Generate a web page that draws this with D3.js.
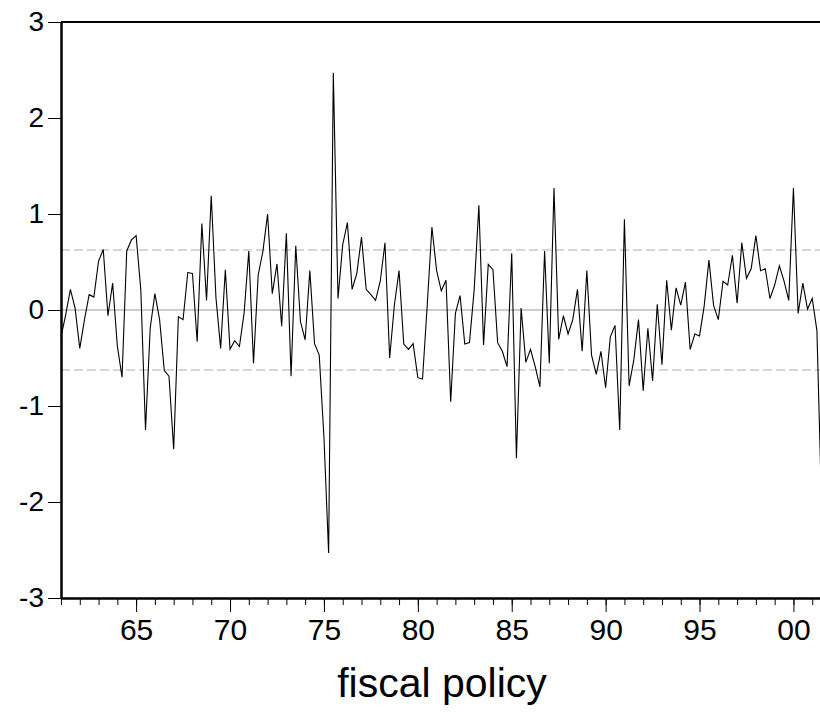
<!DOCTYPE html>
<html>
<head>
<meta charset="utf-8">
<script src="https://cdn.jsdelivr.net/npm/d3@7"></script>
<style>
  body { margin: 0; background: #fff; }
  svg { display: block; overflow: hidden; }
  text { font-family: "Liberation Sans", Arial, sans-serif; fill: #000; }
</style>
</head>
<body>
<div id="chart"></div>
<script>
// quarterly series, starting 1961Q1
const startYear = 1961;
const values = [
  -0.28, -0.05, 0.215, 0.02, -0.40, -0.10, 0.16, 0.135, 0.51, 0.63,
  -0.06, 0.28, -0.375, -0.70, 0.615, 0.73, 0.775, 0.21, -1.25, -0.19,
  0.17, -0.10, -0.63, -0.69, -1.45, -0.07, -0.10, 0.39, 0.38, -0.33,
  0.90, 0.10, 1.19, 0.13, -0.40, 0.42, -0.41, -0.32, -0.38, -0.03,
  0.615, -0.555, 0.365, 0.61, 1.0, 0.17, 0.48, -0.17, 0.80, -0.69,
  0.67, -0.12, -0.31, 0.41, -0.35, -0.47, -1.32, -2.53, 2.47, 0.12,
  0.68, 0.91, 0.215, 0.38, 0.76, 0.215, 0.16, 0.10, 0.30, 0.70,
  -0.50, 0.05, 0.41, -0.355, -0.41, -0.35, -0.705, -0.72, 0.05, 0.865,
  0.41, 0.20, 0.31, -0.955, -0.035, 0.15, -0.355, -0.34, 0.21, 1.09,
  -0.365, 0.475, 0.42, -0.34, -0.43, -0.59, 0.59, -1.545, 0.02, -0.545,
  -0.41, -0.59, -0.80, 0.615, -0.555, 1.27, -0.305, -0.06, -0.25, -0.10,
  0.215, -0.43, 0.41, -0.47, -0.67, -0.43, -0.81, -0.28, -0.16, -1.25,
  0.945, -0.79, -0.52, -0.10, -0.84, -0.19, -0.74, 0.06, -0.57, 0.31,
  -0.21, 0.23, 0.05, 0.29, -0.41, -0.25, -0.27, 0.045, 0.52, 0.045,
  -0.10, 0.30, 0.26, 0.57, 0.07, 0.70, 0.33, 0.43, 0.775, 0.41,
  0.43, 0.12, 0.26, 0.46, 0.30, 0.10, 1.27, -0.035, 0.28, 0.01,
  0.12, -0.215, -2.05
];
const bands = [0.625, -0.625];
const yTicks = [-3, -2, -1, 0, 1, 2, 3];
const majorYears = [1965, 1970, 1975, 1980, 1985, 1990, 1995, 2000];
const majorLabels = ["65", "70", "75", "80", "85", "90", "95", "00"];
const title = "fiscal policy";

const data = values.map((v, i) => ({ t: startYear + i / 4, v: v }));

// margin convention
const W = 820, H = 721;
const margin = ({top: 22, left: 61});
const width = 770;   // plot runs past the right edge of the picture
const height = 576;

const svg = d3.select("#chart")
  .append("svg")
  .attr("width", W)
  .attr("height", H)
  .append("g")
  .attr("transform", "translate(" + margin.left + "," + margin.top + ")");

const xScale = d3.scaleLinear()
  .domain([1961, 2002])
  .range([0, width]);

const yScale = d3.scaleLinear()
  .domain([-3, 3])
  .range([height, 0]);

// reference lines
svg.append("line")
  .attr("x1", 0).attr("x2", width)
  .attr("y1", yScale(0)).attr("y2", yScale(0))
  .attr("stroke", "#989898")
  .attr("stroke-width", 1);

svg.selectAll(".band")
  .data(bands)
  .join("line")
  .attr("class", "band")
  .attr("x1", 0).attr("x2", width)
  .attr("y1", d => yScale(d)).attr("y2", d => yScale(d))
  .attr("stroke", "#ababab")
  .attr("stroke-width", 1)
  .attr("stroke-dasharray", "9,4");

// series
svg.append("path")
  .datum(data)
  .attr("fill", "none")
  .attr("stroke", "#000")
  .attr("stroke-width", 1.1)
  .attr("d", d3.line()
    .x(d => xScale(d.t))
    .y(d => yScale(d.v)));

// top frame
svg.append("line")
  .attr("x1", 0).attr("x2", width)
  .attr("y1", 0).attr("y2", 0)
  .attr("stroke", "#000")
  .attr("stroke-width", 2);

// y axis
const yAxis = d3.axisLeft(yScale)
  .tickValues(yTicks)
  .tickSize(13)
  .tickSizeOuter(0)
  .tickPadding(4)
  .tickFormat(d => String(d));

const leftAxis = svg.append("g")
  .attr("class", "axis y-axis")
  .call(yAxis);
leftAxis.select(".domain").attr("stroke-width", 2.5);
leftAxis.selectAll(".tick line").attr("stroke-width", 1);
leftAxis.selectAll("text").style("font-size", "28px");

// x axis: yearly minor ticks, 5-year major ticks with labels
const minorAxis = d3.axisBottom(xScale)
  .tickValues(d3.range(1961, 2003))
  .tickSize(7)
  .tickSizeOuter(0)
  .tickFormat("");

const bottomAxis = svg.append("g")
  .attr("class", "axis x-axis")
  .attr("transform", `translate(0, ${height})`)
  .call(minorAxis);
bottomAxis.select(".domain").attr("stroke-width", 2.5);

const majorAxis = d3.axisBottom(xScale)
  .tickValues(majorYears)
  .tickSize(14)
  .tickSizeOuter(0)
  .tickPadding(7)
  .tickFormat((d, i) => majorLabels[i]);

const majorG = svg.append("g")
  .attr("class", "axis x-axis-major")
  .attr("transform", `translate(0, ${height})`)
  .call(majorAxis);
majorG.select(".domain").remove();
majorG.selectAll("text").style("font-size", "30px");

// title
svg.append("text")
  .attr("x", 442 - margin.left)
  .attr("y", 697 - margin.top)
  .attr("text-anchor", "middle")
  .style("font-size", "41px")
  .text(title);
</script>
</body>
</html>
